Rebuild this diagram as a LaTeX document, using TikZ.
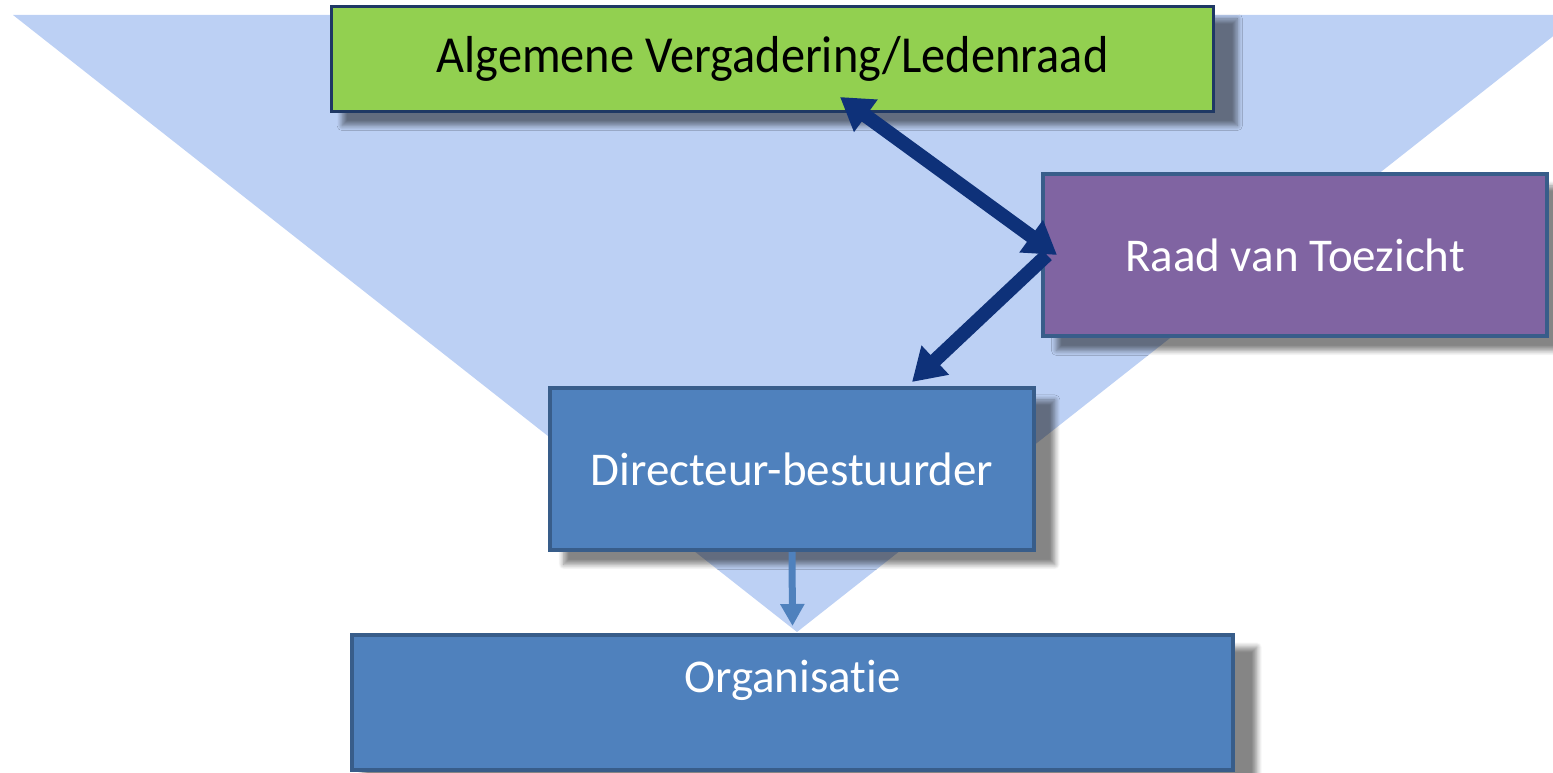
\documentclass[tikz,border=0pt]{standalone}
\usepackage{fontspec}
\setmainfont{Carlito}[Ligatures=NoCommon]
\usetikzlibrary{shadows.blur,calc,arrows.meta}
\definecolor{tri}{HTML}{BCD0F4}
\definecolor{avgreen}{HTML}{92D050}
\definecolor{avborder}{HTML}{1F3864}
\definecolor{rvtpurple}{HTML}{8064A2}
\definecolor{boxblue}{HTML}{4F81BD}
\definecolor{boxborder}{HTML}{385D8A}
\definecolor{navy}{HTML}{0E3179}
\tikzset{
  shad/.style={blur shadow={shadow xshift=17pt, shadow yshift=-13pt, shadow scale=1.015, shadow opacity=48, shadow blur radius=5pt, shadow blur steps=8}},
  orgbox/.style={rectangle, inner sep=0pt, shad, font=\fontsize{47}{56}\selectfont, text=white},
  bigarrow/.style={draw=navy, line width=14pt, {Triangle[width=38pt,length=32pt]}-{Triangle[width=38pt,length=32pt]}},
  bigarrowone/.style={draw=navy, line width=14pt, -{Triangle[width=38pt,length=32pt]}},
  smallarrow/.style={draw=boxblue, line width=7pt, -{Triangle[width=23pt,length=22pt]}}
}
\begin{document}
\begin{tikzpicture}[x=1pt,y=-1pt]
\useasboundingbox (0,0) rectangle (1553,773);
\fill[tri] (13,15) -- (1580,15) -- (797,632) -- cycle;
\node[orgbox, fill=avgreen, draw=avborder, line width=3pt, text=black,
  minimum width=882pt, minimum height=105pt, font=\fontsize{52}{60}\selectfont]
  (av) at (772.5,59) {\scalebox{0.93}[1]{Algemene Vergadering/Ledenraad}};
\node[orgbox, fill=rvtpurple, draw=boxborder, line width=4pt,
  minimum width=504pt, minimum height=162pt] (rvt) at (1295,255) {Raad van Toezicht};
\node[orgbox, fill=boxblue, draw=boxborder, line width=4pt,
  minimum width=484pt, minimum height=162pt] (db) at (792,469) {Directeur-bestuurder};
\node[orgbox, fill=boxblue, draw=boxborder, line width=4pt,
  minimum width=881pt, minimum height=135pt, text height=33pt, text depth=54pt] (org) at (792.5,702.5) {Organisatie};
\draw[bigarrow] ($(av.south)+(67.5,-16)$) -- ($(rvt.west)+(16,0)$);
\draw[bigarrowone] ($(rvt.west)+(6,0)$) -- ($(db.north)+(120,-4)$);
\draw[smallarrow] (db.south) -- ($(org.north)+(0,-7)$);
\end{tikzpicture}
\end{document}
